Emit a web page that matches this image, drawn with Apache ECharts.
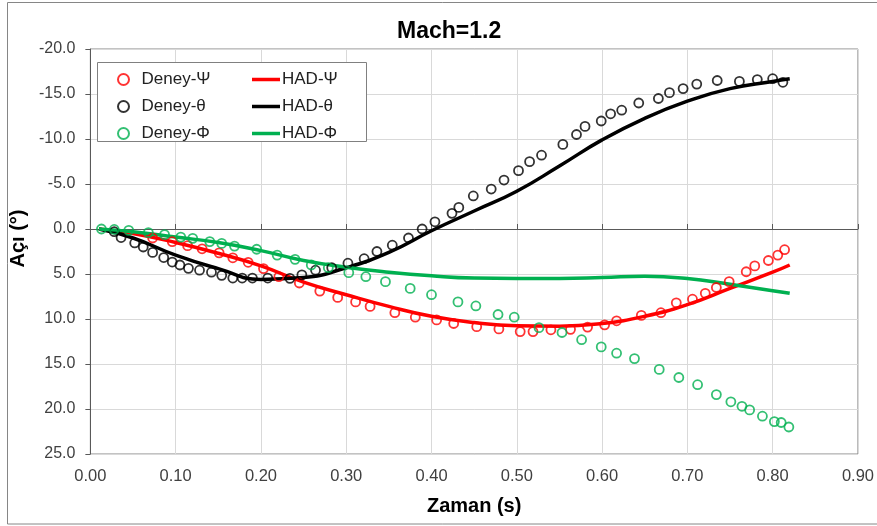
<html lang="tr">
<head>
    <meta charset="UTF-8">
    <title>Mach=1.2</title>
    <style>
        html, body { margin: 0; padding: 0; background: #fff; }
        #chart { width: 877px; height: 526px; }
    </style>
</head>
<body>
    <div id="chart"></div>
    <script src="https://cdn.jsdelivr.net/npm/echarts@6/dist/echarts.min.js"></script>
    <script>
        // deney noktalari (zaman, aci)
        const tPsi = [0.073, 0.096, 0.114, 0.131, 0.151, 0.167, 0.185, 0.203, 0.221, 0.245, 0.269, 0.290, 0.311, 0.328, 0.357, 0.381, 0.406, 0.426, 0.453, 0.479, 0.504, 0.519, 0.540, 0.563, 0.583, 0.603, 0.617, 0.646, 0.669, 0.687, 0.706, 0.721, 0.734, 0.749, 0.769, 0.779, 0.795, 0.806, 0.814]
        const psiExp = [1.0, 1.4, 1.85, 2.2, 2.65, 3.2, 3.7, 4.4, 5.3, 6.0, 6.9, 7.6, 8.1, 8.6, 9.3, 9.8, 10.1, 10.5, 10.85, 11.1, 11.4, 11.4, 11.2, 11.15, 10.9, 10.65, 10.2, 9.6, 9.3, 8.2, 7.8, 7.15, 6.5, 5.85, 4.75, 4.1, 3.5, 2.9, 2.3]

        const tTheta = [0.028, 0.036, 0.052, 0.062, 0.073, 0.086, 0.096, 0.105, 0.115, 0.128, 0.142, 0.154, 0.167, 0.178, 0.190, 0.208, 0.234, 0.248, 0.264, 0.283, 0.302, 0.321, 0.336, 0.354, 0.373, 0.389, 0.404, 0.424, 0.432, 0.449, 0.470, 0.485, 0.502, 0.515, 0.529, 0.554, 0.570, 0.580, 0.599, 0.610, 0.623, 0.643, 0.666, 0.679, 0.695, 0.711, 0.735, 0.761, 0.782, 0.800, 0.812]
        const thetaExp = [0.3, 0.95, 1.55, 2.0, 2.6, 3.17, 3.67, 4.0, 4.37, 4.58, 4.8, 5.15, 5.45, 5.45, 5.45, 5.45, 5.48, 5.1, 4.58, 4.3, 3.8, 3.3, 2.5, 1.8, 1.0, 0.0, -0.8, -1.74, -2.4, -3.67, -4.44, -5.44, -6.48, -7.48, -8.2, -9.4, -10.5, -11.4, -12.0, -12.8, -13.2, -14.0, -14.5, -15.15, -15.6, -16.1, -16.5, -16.4, -16.6, -16.7, -16.3]

        const tPhi = [0.013, 0.028, 0.045, 0.068, 0.087, 0.106, 0.120, 0.140, 0.154, 0.169, 0.195, 0.219, 0.240, 0.259, 0.279, 0.303, 0.323, 0.346, 0.375, 0.400, 0.431, 0.452, 0.478, 0.497, 0.526, 0.553, 0.576, 0.599, 0.617, 0.638, 0.667, 0.690, 0.712, 0.734, 0.751, 0.764, 0.773, 0.788, 0.802, 0.810, 0.819]
        const phiExp = [0, 0.05, 0.15, 0.4, 0.63, 0.9, 1.04, 1.4, 1.6, 1.9, 2.25, 2.9, 3.37, 4.0, 4.3, 4.85, 5.3, 5.85, 6.6, 7.3, 8.1, 8.55, 9.5, 9.8, 10.96, 11.5, 12.3, 13.1, 13.8, 14.4, 15.6, 16.5, 17.3, 18.4, 19.2, 19.7, 20.1, 20.8, 21.4, 21.5, 22.0]

        // HAD sonuclari
        const tHad = [0.01, 0.05, 0.10, 0.15, 0.20, 0.25, 0.30, 0.35, 0.40, 0.45, 0.50, 0.55, 0.60, 0.65, 0.70, 0.75, 0.80, 0.82]
        const psiHad = [0, 0.5, 1.5, 2.7, 4.1, 5.9, 7.3, 8.6, 9.7, 10.4, 10.75, 10.8, 10.5, 9.7, 8.4, 6.6, 4.8, 4.0]
        const thetaHad = [0, 1.0, 2.9, 4.4, 5.6, 5.4, 4.3, 2.6, 0.2, -2.0, -4.2, -7.0, -9.9, -12.3, -14.2, -15.6, -16.4, -16.7]
        const phiHad = [0, 0.3, 0.9, 1.5, 2.4, 3.5, 4.25, 4.8, 5.2, 5.45, 5.5, 5.5, 5.4, 5.25, 5.5, 6.15, 6.85, 7.15]

        const expNames = ['Deney-Ψ', 'Deney-θ', 'Deney-Φ']
        const hadNames = ['HAD-Ψ', 'HAD-θ', 'HAD-Φ']
        const colors = ['#ff0000', '#000000', '#00b050']

        const pairs = (xs, ys) => xs.map((x, i) => [x, ys[i]])
        const font = 'Liberation Sans, Arial, sans-serif'

        const hadData = [psiHad, thetaHad, phiHad]
        const expData = [[tPsi, psiExp], [tTheta, thetaExp], [tPhi, phiExp]]

        const lineSeries = hadNames.map((name, i) => ({
            name: name,
            type: 'line',
            data: pairs(tHad, hadData[i]),
            smooth: true,
            symbol: 'none',
            lineStyle: { color: colors[i], width: 3.5 },
            itemStyle: { color: colors[i] },
            z: 2
        }))
        const scatterSeries = expNames.map((name, i) => ({
            name: name,
            type: 'scatter',
            data: pairs(expData[i][0], expData[i][1]),
            symbol: 'circle',
            symbolSize: 9,
            itemStyle: { color: 'rgba(0,0,0,0)', borderColor: colors[i], borderWidth: 1.8 },
            z: 2
        }))

        const chart = echarts.init(document.getElementById('chart'))
        chart.setOption({
            animation: false,
            title: {
                text: 'Mach=1.2',
                left: 392,
                top: 15,
                textStyle: { fontFamily: font, fontSize: 23, fontWeight: 'bold', color: '#000' }
            },
            grid: {
                left: 88, right: 17, top: 49, bottom: 72,
                show: true, borderColor: '#868686', borderWidth: 1
            },
            legend: [
                {
                    data: expNames, orient: 'vertical', left: 112, top: 66,
                    itemWidth: 26, itemHeight: 11, itemGap: 10,
                    textStyle: { fontFamily: font, fontSize: 17, color: '#222' }
                },
                {
                    data: hadNames, orient: 'vertical', left: 247, top: 66,
                    icon: 'path://M0 0H28V3.5H0Z',
                    itemWidth: 28, itemHeight: 11, itemGap: 10,
                    textStyle: { fontFamily: font, fontSize: 17, color: '#222', padding: [0, 0, 0, -3] }
                }
            ],
            graphic: [
                {
                    type: 'rect', z: 0, silent: true,
                    shape: { x: 7.5, y: 2.5, width: 880, height: 521.5 },
                    style: { fill: 'none', stroke: '#868686', lineWidth: 1 }
                },
                {
                    type: 'rect', z: 3, silent: true,
                    shape: { x: 97.5, y: 62.5, width: 269, height: 79 },
                    style: { fill: '#fff', stroke: '#808080', lineWidth: 1 }
                }
            ],
            xAxis: [
                {
                    type: 'value', position: 'bottom', min: 0, max: 0.9, interval: 0.1,
                    name: 'Zaman (s)', nameLocation: 'middle', nameGap: 42,
                    nameTextStyle: { fontFamily: font, fontSize: 20, fontWeight: 'bold', color: '#000' },
                    axisLine: { show: false, onZero: false },
                    axisTick: { show: false },
                    axisLabel: {
                        margin: 14, fontFamily: font, fontSize: 16.5, color: '#404040',
                        formatter: v => v.toFixed(2)
                    },
                    splitLine: { lineStyle: { color: '#d9d9d9' } }
                },
                {
                    // sifir cizgisi
                    type: 'value', position: 'bottom', min: 0, max: 0.9, interval: 0.1,
                    axisLine: { onZero: true, lineStyle: { color: '#595959', width: 1 } },
                    axisTick: { show: true, inside: true, length: 5, lineStyle: { color: '#595959' } },
                    axisLabel: { show: false },
                    splitLine: { show: false }
                }
            ],
            yAxis: {
                type: 'value', inverse: true, min: -20, max: 25, interval: 5,
                name: 'Açı (°)', nameLocation: 'middle', nameGap: 52,
                nameTextStyle: { fontFamily: font, fontSize: 20, fontWeight: 'bold', color: '#000', padding: [0, 0, 0, 26] },
                axisLine: { show: true, onZero: false, lineStyle: { color: '#595959' } },
                axisTick: { show: true, length: 5, lineStyle: { color: '#595959' } },
                axisLabel: {
                    margin: 15, fontFamily: font, fontSize: 16, color: '#404040',
                    formatter: v => v.toFixed(1)
                },
                splitLine: { lineStyle: { color: '#d9d9d9' } }
            },
            series: lineSeries.concat(scatterSeries)
        })
    </script>
</body>
</html>
